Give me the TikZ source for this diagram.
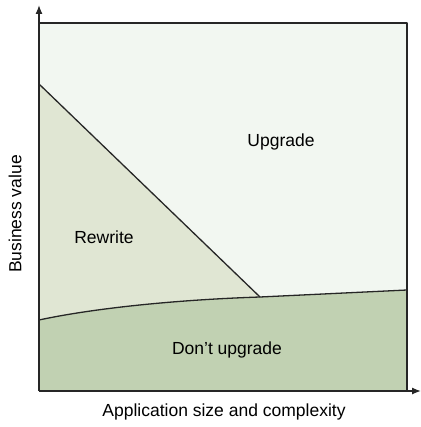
\documentclass[tikz,border=0pt]{standalone}
\usepackage{fontspec}
\setmainfont{Liberation Sans}
\usepackage{xcolor}
\usetikzlibrary{arrows.meta, positioning}

\definecolor{upgradefill}{HTML}{F2F7F1}
\definecolor{rewritefill}{HTML}{E0E6D3}
\definecolor{keepfill}{HTML}{C1D1B2}

\begin{document}
\begin{tikzpicture}[x=1pt, y=-1pt, line join=round]

    \useasboundingbox (0,0) rectangle (420,427);

    % Corners and boundary points
    \coordinate (bl) at (39,391);
    \coordinate (tr) at (407,23);
    \coordinate (rw_top) at (39,84);
    \coordinate (rw_low) at (39,320);
    \coordinate (meet) at (260,297);
    \coordinate (keep_right) at (407,290);

    % Regions
    \fill[upgradefill] (39,23) rectangle (407,391);
    \fill[rewritefill] (rw_top) -- (meet) .. controls (170,300) and (90,309) .. (rw_low) -- cycle;
    \fill[keepfill] (rw_low) .. controls (90,309) and (170,300) .. (meet) -- (keep_right) -- (407,391) -- (bl) -- cycle;

    % Boundaries
    \draw[line width=1.3pt, draw=black!85] (rw_top) -- (meet);
    \draw[line width=1.3pt, draw=black!85] (rw_low) .. controls (90,309) and (170,300) .. (meet) -- (keep_right);
    \draw[line width=1.3pt, draw=black!85] (39,23) -- (407,23) -- (407,391);

    % Axes
    \coordinate (y_tip) at (39,5);
    \coordinate (x_tip) at (421,391);
    \draw[line width=1.3pt, draw=black!85, -{Latex[length=9pt, width=7pt]}] (bl) -- (y_tip);
    \draw[line width=1.3pt, draw=black!85, -{Latex[length=9pt, width=7pt]}] (bl) -- (x_tip);

    % Region labels
    \node[font=\fontsize{17.5}{20}\selectfont] (upgrade) at (281,142) {Upgrade};
    \node[font=\fontsize{17.5}{20}\selectfont] (rewrite) at (104,237) {Rewrite};
    \node[font=\fontsize{17.5}{20}\selectfont] (keep) at (227,350) {Don’t upgrade};

    % Axis labels
    \node[font=\fontsize{17.5}{20}\selectfont, rotate=90] (yaxis) at (15,214) {Business value};
    \node[font=\fontsize{17.5}{20}\selectfont] (xaxis) at (224,412) {Application size and complexity};

\end{tikzpicture}
\end{document}
